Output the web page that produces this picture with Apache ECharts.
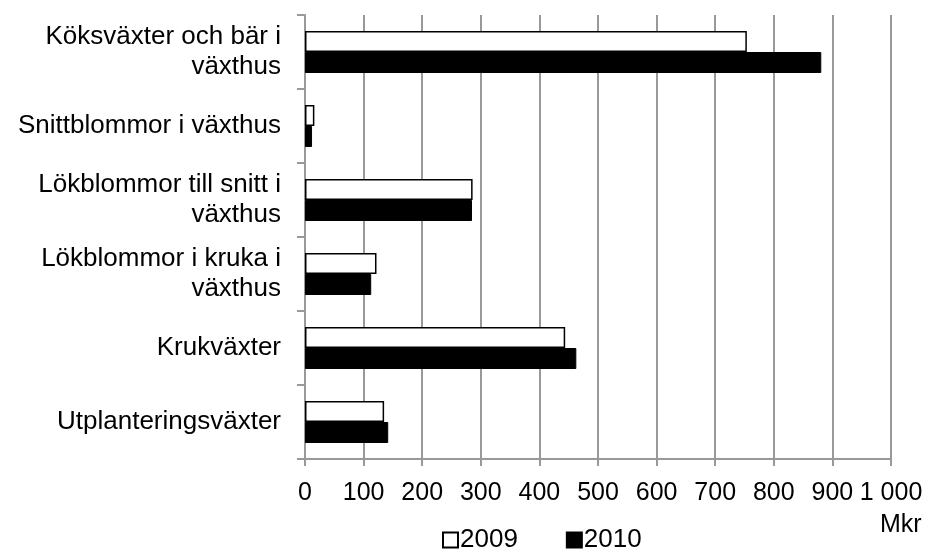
<!DOCTYPE html>
<html>
<head>
<meta charset="utf-8">
<script src="https://cdn.jsdelivr.net/npm/echarts@6/dist/echarts.min.js"></script>
<style>
html, body { margin: 0; padding: 0; background: #fff; }
#chart { width: 931px; height: 550px; }
</style>
</head>
<body>
<div id="chart"></div>
<script>
// kategorier, uppifrån och ned
var categories = [
	'Köksväxter och bär i\nväxthus',
	'Snittblommor i växthus',
	'Lökblommor till snitt i\nväxthus',
	'Lökblommor i kruka i\nväxthus',
	'Krukväxter',
	'Utplanteringsväxter'
];
var values2009 = [754, 16, 286, 122, 444, 135];
var values2010 = [881, 12, 285, 113, 463, 142];
var tickLabels = ['0', '100', '200', '300', '400', '500', '600', '700', '800', '900', '1 000'];

var font = 'Arial, "Liberation Sans", sans-serif';
var myChart = echarts.init(document.getElementById('chart'));
var option = {
	backgroundColor : '#fff',
	animation : false,
	textStyle : { fontFamily : font },
	grid : { left : 305, right : 40, top : 15, bottom : 91, containLabel : false },
	legend : {
		data : [ '2009', '2010' ],
		left : 437,
		top : 522,
		itemWidth : 15,
		itemHeight : 15,
		itemGap : 48,
		icon : 'rect',
		textStyle : { fontSize : 26, color : '#000', fontFamily : font, padding : [0, 0, 0, -3] }
	},
	xAxis : {
		type : 'value',
		min : 0,
		max : 1000,
		interval : 100,
		axisLine : { show : true, lineStyle : { color : '#999', width : 2 } },
		axisTick : { show : true, length : 7, lineStyle : { color : '#999', width : 2 } },
		splitLine : { show : true, lineStyle : { color : '#999', width : 2 } },
		axisLabel : {
			color : '#000',
			fontSize : 25,
			margin : 22,
			showMinLabel : true,
			showMaxLabel : true,
			hideOverlap : false,
			formatter : function(v) { return tickLabels[Math.round(v / 100)]; }
		}
	},
	yAxis : {
		type : 'category',
		inverse : true,
		data : categories,
		axisLine : { show : true, lineStyle : { color : '#999', width : 2 } },
		axisTick : { show : true, length : 8, lineStyle : { color : '#999', width : 2 } },
		axisLabel : {
			color : '#000',
			fontSize : 26,
			lineHeight : 30,
			margin : 24,
			align : 'right',
			interval : 0
		}
	},
	graphic : [ {
		type : 'text',
		left : 880,
		top : 513,
		style : { text : 'Mkr', fontSize : 25, fill : '#000', fontFamily : font }
	} ],
	series : [ {
		name : '2009',
		type : 'bar',
		data : values2009,
		barWidth : 21,
		barGap : '0%',
		itemStyle : { color : '#fff', borderColor : '#000', borderWidth : 1.5 }
	}, {
		name : '2010',
		type : 'bar',
		data : values2010,
		barWidth : 21,
		barGap : '0%',
		itemStyle : { color : '#000', borderColor : '#000', borderWidth : 1 }
	} ]
};
myChart.setOption(option);
</script>
</body>
</html>
